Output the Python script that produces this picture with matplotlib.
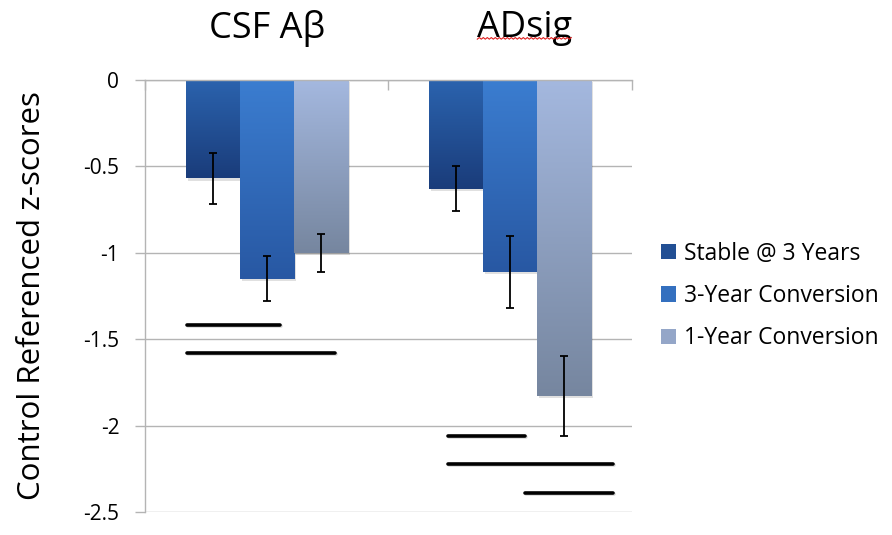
import matplotlib
matplotlib.use('Agg')
import matplotlib.pyplot as plt
import numpy as np
from matplotlib.colors import LinearSegmentedColormap
from matplotlib import patheffects as pe
from matplotlib.patches import Patch
from matplotlib.transforms import blended_transform_factory

# ---- data ----
categories = ['CSF Aβ', 'ADsig']
series = ['Stable @ 3 Years', '3-Year Conversion', '1-Year Conversion']
stable = [-0.57, -0.63]
conv3 = [-1.15, -1.11]
conv1 = [-1.00, -1.83]
stable_err = [0.15, 0.13]
conv3_err = [0.13, 0.21]
conv1_err = [0.11, 0.23]
yticks = [0, -0.5, -1, -1.5, -2, -2.5]
ytick_labels = ['0', '-0.5', '-1', '-1.5', '-2', '-2.5']

# significance lines (y level, start, end in category units)
sig_y = [-1.42, -1.58, -2.06, -2.22, -2.39]
sig_x0 = [0.171, 0.172, 1.243, 1.243, 1.561]
sig_x1 = [0.554, 0.780, 1.561, 1.921, 1.921]

# ---- style ----
FONT = ['Open Sans', 'DejaVu Sans']
plt.rcParams['font.family'] = FONT
grad_colors = [('#2b63ae', '#1a3c7a'), ('#3b7dd0', '#2858a3'), ('#a4b8df', '#76869f')]
legend_colors = ['#224f94', '#3470bf', '#94a6c8']
grid_color = '#b4b4b4'

fig = plt.figure(figsize=(8.92, 5.35), dpi=100)
ax = fig.add_axes([145/892, 1-512/535, (632-145)/892, (512-80)/535])

values = [stable, conv3, conv1]
errs = [stable_err, conv3_err, conv1_err]
width = 0.222
centers = np.arange(len(categories)) + 0.5
offsets = [-width, 0, width]

for s, (vals, ers) in enumerate(zip(values, errs)):
    xs = centers + offsets[s]
    bars = ax.bar(xs, vals, width, color=legend_colors[s], zorder=2,
                  path_effects=[pe.SimplePatchShadow(offset=(1.5, -1.5), alpha=0.12, shadow_rgbFace='black'), pe.Normal()])
    cmap = LinearSegmentedColormap.from_list('g%d' % s, list(grad_colors[s]))
    for b in bars:
        x0 = b.get_x(); w = b.get_width(); h = b.get_height(); y0 = b.get_y()
        grad = np.linspace(0, 1, 256).reshape(-1, 1)
        im = ax.imshow(grad, extent=[x0, x0 + w, y0 + h, y0], cmap=cmap,
                       aspect='auto', zorder=2.5, origin='upper')
        im.set_clip_path(b)
    ax.errorbar(xs, vals, yerr=ers, fmt='none', ecolor='black', elinewidth=1.3,
                capsize=3.2, capthick=1.3, zorder=4)

for y, a, b in zip(sig_y, sig_x0, sig_x1):
    ax.plot([a, b], [y, y], color='black', lw=2.6, solid_capstyle='round', zorder=5,
            path_effects=[pe.SimpleLineShadow(offset=(0.8, -0.8), alpha=0.15), pe.Normal()])

ax.set_xlim(0, len(categories))
ax.set_ylim(-2.5, 0)
ax.set_yticks(yticks)
ax.set_yticklabels(ytick_labels, fontsize=15)
ax.yaxis.grid(True, color=grid_color, lw=1.0, zorder=0)
ax.set_axisbelow(True)
ax.tick_params(axis='y', length=7, color=grid_color, pad=11.5, width=1.0)
ax.xaxis.tick_top()
ax.set_xticks(range(len(categories) + 1))
ax.set_xticklabels([])
ax.tick_params(axis='x', direction='in', length=7, color=grid_color, width=1.0)
for sp in ['right', 'bottom']:
    ax.spines[sp].set_visible(False)
for sp in ['left', 'top']:
    ax.spines[sp].set_color(grid_color)
    ax.spines[sp].set_linewidth(1.0)

ax.set_ylabel('Control Referenced z-scores', fontsize=22.5, labelpad=26)

trans = blended_transform_factory(ax.transData, ax.transAxes)
label_shift = [0.0, 0.06]
texts = []
for c, cat in enumerate(categories):
    t = ax.text(centers[c] + label_shift[c], 1.12, cat, transform=trans, ha='center', va='center',
                fontsize=26, family=FONT)
    texts.append(t)

# red spell-check squiggle under "ADsig"
fig.canvas.draw()
bb = texts[1].get_window_extent()
inv = fig.transFigure.inverted()
xs_px = np.arange(bb.x0, bb.x1, 2.0)
ys_px = bb.y0 + 7 + np.where(np.arange(len(xs_px)) % 2 == 0, 0.0, 1.6)
pts = inv.transform(np.column_stack([xs_px, ys_px]))
fig.add_artist(plt.Line2D(pts[:, 0], pts[:, 1], color='#e02020', lw=0.8, transform=fig.transFigure))

handles = [Patch(facecolor=legend_colors[i], edgecolor='none', label=series[i]) for i in range(3)]
fig.legend(handles=handles, loc='center left', bbox_to_anchor=(652/892, 1-296/535),
           frameon=False, fontsize=16.5, handlelength=0.65, handleheight=0.65,
           handletextpad=0.35, labelspacing=0.8, borderaxespad=0)

fig.savefig('out.png', dpi=100)
